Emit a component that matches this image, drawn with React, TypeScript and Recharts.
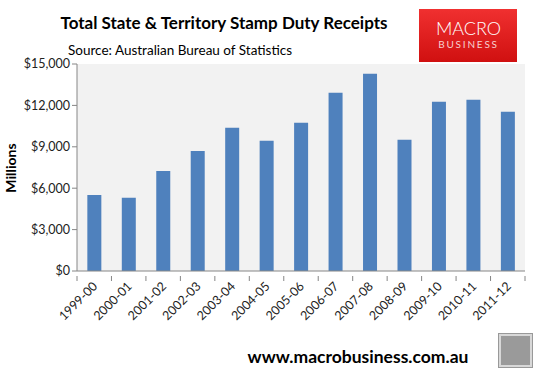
import React from "react";
import { BarChart, Bar, XAxis, YAxis, CartesianGrid } from "recharts";

const categories = ["1999-00", "2000-01", "2001-02", "2002-03", "2003-04", "2004-05", "2005-06", "2006-07", "2007-08", "2008-09", "2009-10", "2010-11", "2011-12"];
const receipts = [5500, 5300, 7250, 8700, 10380, 9430, 10740, 12920, 14300, 9510, 12260, 12410, 11540];
const yTicks = [0, 3000, 6000, 9000, 12000, 15000];

const data = categories.map((c, i) => ({ year: c, value: receipts[i] }));

const FONT = "Lato, 'Open Sans', sans-serif";
const AXIS = "#868686";

const XTick = (props: any) => {
  const { x, y, payload, width, visibleTicksCount, index } = props;
  const band = width / visibleTicksCount;
  return (
    <g>
      <line x1={x - band / 2} x2={x - band / 2} y1={y - 3} y2={y + 2} stroke={AXIS} />
      {index === visibleTicksCount - 1 && (
        <line x1={x + band / 2} x2={x + band / 2} y1={y - 3} y2={y + 2} stroke={AXIS} />
      )}
      <text
        x={x + 4}
        y={y + 8}
        textAnchor="end"
        fontSize={12.5}
        fontFamily={FONT}
        fill="#222"
        transform={`rotate(-45, ${x + 4}, ${y + 8})`}
      >
        {payload.value}
      </text>
    </g>
  );
};

export default function App() {
  return (
    <div style={{ position: "absolute", left: 0, top: 0, width: 539, height: 373, background: "#fff", fontFamily: FONT }}>
      <BarChart
        width={539}
        height={373}
        data={data}
        margin={{ top: 64, right: 14, bottom: 42, left: 0 }}
        barCategoryGap="30%"
      >
        <CartesianGrid fill="#f2f2f2" horizontal={false} vertical={false} stroke="none" />
        <XAxis
          dataKey="year"
          interval={0}
          height={60}
          stroke={AXIS}
          tickLine={false}
          tick={<XTick />}
        />
        <YAxis
          domain={[0, 15000]}
          ticks={yTicks}
          width={77}
          stroke={AXIS}
          tickSize={5}
          tickLine={{ stroke: AXIS }}
          tick={{ fontSize: 12.5, fontFamily: FONT, fill: "#222" }}
          tickFormatter={(v: number) => "$" + v.toLocaleString("en-US")}
        />
        <Bar dataKey="value" fill="#4f81bd" isAnimationActive={false} />
        <text x={224} y={29} textAnchor="middle" fontSize={17} fontWeight="bold" fontFamily={FONT} fill="#000">
          Total State &amp; Territory Stamp Duty Receipts
        </text>
        <text x={68} y={55} fontSize={13.5} fontFamily={FONT} fill="#000">
          Source: Australian Bureau of Statistics
        </text>
        <text x={10} y={168} textAnchor="middle" fontSize={14} fontWeight="bold" fontFamily={FONT} fill="#000" transform="rotate(-90, 10, 168)" dominantBaseline="central">
          Millions
        </text>
        <defs>
          <linearGradient id="mbred" x1="0" y1="0" x2="0" y2="1">
            <stop offset="0%" stopColor="#f03030" />
            <stop offset="100%" stopColor="#d01010" />
          </linearGradient>
        </defs>
        <rect x={419} y={9} width={98} height={53} fill="url(#mbred)" />
        <text x={468.5} y={34.5} textAnchor="middle" fontSize={18} fontWeight={300} fontFamily={FONT} fill="#fff">MACRO</text>
        <text x={468.5} y={48} textAnchor="middle" fontSize={10} fontFamily={FONT} fill="#f6d0d0" letterSpacing={1.8}>BUSINESS</text>
        <text x={358} y={363} textAnchor="middle" fontSize={17.5} fontWeight="bold" fontFamily={FONT} fill="#000">
          www.macrobusiness.com.au
        </text>
        <rect x={498.5} y={333.5} width={34} height={34} fill="#d8d8d8" stroke="#999" />
        <rect x={501} y={336} width={29} height={29} fill="#9a9a9a" />
      </BarChart>
    </div>
  );
}
